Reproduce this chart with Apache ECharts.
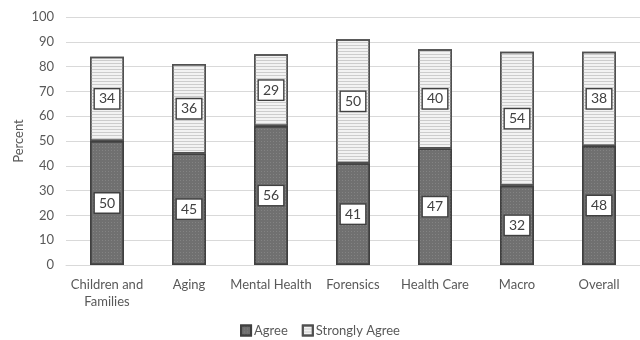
<!DOCTYPE html>
<html>
<head>
<meta charset="utf-8">
<script src="https://cdn.jsdelivr.net/npm/echarts@6/dist/echarts.min.js"></script>
<style>html,body{margin:0;padding:0;background:#fff}#c{width:640px;height:340px}</style>
</head>
<body>
<div id="c"></div>
<script>
const categories = ['Children and\nFamilies', 'Aging', 'Mental Health', 'Forensics', 'Health Care', 'Macro', 'Overall'];
const agree = [50, 45, 56, 41, 47, 32, 48];
const stronglyAgree = [34, 36, 29, 50, 40, 54, 38];
const yTicks = { min: 0, max: 100, interval: 10 };

const FONT = 'Lato';
const labelStyle = {
  show: true,
  position: 'inside',
  color: '#404040',
  fontFamily: FONT,
  fontSize: 14,
  backgroundColor: '#ffffff',
  borderColor: '#404040',
  borderWidth: 1.4,
  padding: [3, 4, 2, 4]
};

const chart = echarts.init(document.getElementById('c'), null, { renderer: 'canvas' });
chart.setOption({
  animation: false,
  textStyle: { fontFamily: FONT },
  grid: { left: 66, right: -11, top: 17, bottom: 75 },
  legend: {
    bottom: 0,
    left: 'center',
    padding: [0, 5, 3, 5],
    itemWidth: 10,
    itemHeight: 10,
    itemGap: 14,
    icon: 'rect',
    textStyle: { color: '#595959', fontSize: 13, fontFamily: FONT, padding: [0, 0, 0, -2] },
    data: ['Agree', 'Strongly Agree']
  },
  xAxis: {
    type: 'category',
    data: categories,
    axisLine: { lineStyle: { color: '#d9d9d9', width: 1 } },
    axisTick: { show: false },
    axisLabel: { color: '#595959', fontSize: 13, fontFamily: FONT, margin: 11, lineHeight: 17, interval: 0 }
  },
  yAxis: {
    type: 'value',
    min: yTicks.min,
    max: yTicks.max,
    interval: yTicks.interval,
    name: 'Percent',
    nameLocation: 'middle',
    nameGap: 41,
    nameMoveOverlap: false,
    nameTextStyle: { color: '#595959', fontSize: 13, fontFamily: FONT },
    axisLine: { show: false },
    axisTick: { show: false },
    axisLabel: { color: '#595959', fontSize: 13, fontFamily: FONT, margin: 12 },
    splitLine: { lineStyle: { color: '#d9d9d9', width: 1 } }
  },
  series: [
    {
      name: 'Agree',
      type: 'bar',
      stack: 'a',
      data: agree,
      barWidth: 34,
      itemStyle: {
        color: '#707070',
        borderColor: '#404040',
        borderWidth: 1.5,
        decal: { symbol: 'rect', symbolSize: 1, dashArrayX: [1, 2], dashArrayY: [1, 2], color: 'rgba(150,150,150,0.5)' }
      },
      label: labelStyle
    },
    {
      name: 'Strongly Agree',
      type: 'bar',
      stack: 'a',
      data: stronglyAgree,
      barWidth: 34,
      itemStyle: {
        color: '#f2f2f2',
        borderColor: '#505050',
        borderWidth: 1.5,
        decal: { symbol: 'rect', symbolSize: 1, dashArrayX: [[1, 0]], dashArrayY: [1, 2], color: 'rgba(195,195,195,0.8)' }
      },
      label: labelStyle
    }
  ]
});
</script>
</body>
</html>
